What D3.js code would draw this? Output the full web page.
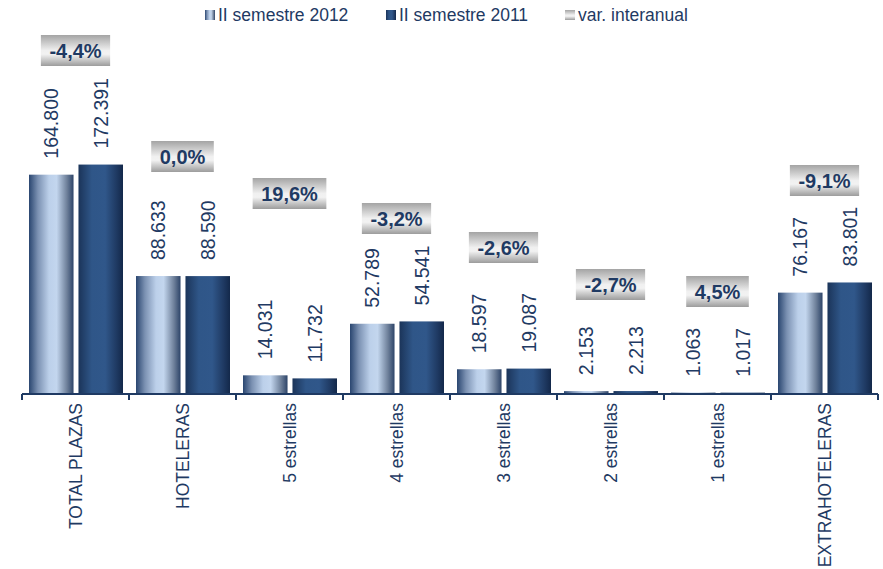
<!DOCTYPE html>
<html>
<head>
<meta charset="utf-8">
<script src="https://cdn.jsdelivr.net/npm/d3@7"></script>
<style>
  body { margin: 0; background: #fff; }
  svg { font-family: Arial, "Liberation Sans", sans-serif; }
</style>
</head>
<body>
<div id="chart"></div>
<script>
// data
var categories = ["TOTAL PLAZAS", "HOTELERAS", "5 estrellas", "4 estrellas", "3 estrellas", "2 estrellas", "1 estrellas", "EXTRAHOTELERAS"];
var series = ["II semestre 2012", "II semestre 2011"];
var plazas2012 = [164800, 88633, 14031, 52789, 18597, 2153, 1063, 76167];
var plazas2011 = [172391, 88590, 11732, 54541, 19087, 2213, 1017, 83801];
var varInteranual = [-4.4, 0.0, 19.6, -3.2, -2.6, -2.7, 4.5, -9.1];
var legendLabels = ["II semestre 2012", "II semestre 2011", "var. interanual"];

// where the variation boxes were placed by hand (top edge, px)
var boxTop = [35, 141, 178, 203, 232, 269, 276, 165];

var w = 883, h = 569;
var axisY = 394, left = 22, right = 878;
var navy = "#1f3a63";

var fmtNum = function(v) { return d3.format(",")(v).replace(/,/g, "."); };
var fmtPct = function(v) { return d3.format(".1f")(v).replace(".", ",").replace("\u2212", "-") + "%"; };

var svg = d3.select("#chart").append("svg")
    .attr("width", w)
    .attr("height", h);

// gradients
var defs = svg.append("defs");
function hGrad(id, stops, vertical) {
    var g = defs.append("linearGradient").attr("id", id)
        .attr("x1", "0%").attr("y1", "0%")
        .attr("x2", vertical ? "0%" : "100%").attr("y2", vertical ? "100%" : "0%");
    stops.forEach(function(s) {
        g.append("stop").attr("offset", s[0]).attr("stop-color", s[1]);
    });
}
hGrad("g2012", [["0%", "#2a4670"], ["20%", "#7b91b2"], ["45%", "#bcd0ea"], ["62%", "#c3d6ee"], ["85%", "#6f819b"], ["100%", "#2d4468"]]);
hGrad("g2011", [["0%", "#1b3459"], ["30%", "#2f5688"], ["60%", "#30578a"], ["85%", "#1f3a63"], ["100%", "#13284a"]]);
hGrad("gbox", [["0%", "#a4a4a4"], ["50%", "#f0f0f0"], ["62%", "#f2f2f2"], ["100%", "#9c9c9c"]], true);

var x0 = d3.scaleBand().domain(categories).range([left, right]).paddingInner(0);
var x1 = d3.scaleBand().domain(series).range([7, 101]).paddingInner(0.1);
var y = d3.scaleLinear().domain([0, 275000]).range([axisY, 28]);

var rows = categories.map(function(c, i) {
    return { cat: c, vals: [plazas2012[i], plazas2011[i]], pct: varInteranual[i], top: boxTop[i] };
});

var groups = svg.selectAll(".cat")
    .data(rows)
    .enter()
    .append("g")
    .attr("class", "cat")
    .attr("transform", function(d) { return "translate(" + x0(d.cat) + ",0)"; });

// bars
groups.selectAll("rect")
    .data(function(d) { return d.vals.map(function(v, k) { return { s: series[k], v: v }; }); })
    .enter()
    .append("rect")
    .attr("x", function(d) { return x1(d.s); })
    .attr("y", function(d) { return y(d.v); })
    .attr("width", x1.bandwidth())
    .attr("height", function(d) { return axisY - y(d.v); })
    .attr("fill", function(d, k) { return k === 0 ? "url(#g2012)" : "url(#g2011)"; });

// value labels (rotated)
groups.selectAll(".val")
    .data(function(d) { return d.vals.map(function(v, k) { return { s: series[k], v: v }; }); })
    .enter()
    .append("text")
    .attr("class", "val")
    .attr("transform", function(d) {
        return "translate(" + (x1(d.s) + x1.bandwidth() / 2) + "," + (y(d.v) - 16) + ") rotate(-90)";
    })
    .attr("dy", "0.35em")
    .attr("font-size", "19.5px")
    .attr("fill", navy)
    .text(function(d) { return fmtNum(d.v); });

// variation boxes
groups.each(function(d) {
    var g = d3.select(this);
    var cx = x0.bandwidth() / 2;
    var t = g.append("text")
        .attr("x", cx)
        .attr("y", d.top + 15.5)
        .attr("dy", "0.36em")
        .attr("text-anchor", "middle")
        .attr("font-size", "20px")
        .attr("font-weight", "bold")
        .attr("fill", navy)
        .text(fmtPct(d.pct));
    var tw = t.node().getComputedTextLength() + 17;
    g.insert("rect", function() { return t.node(); })
        .attr("x", cx - tw / 2)
        .attr("y", d.top)
        .attr("width", tw)
        .attr("height", 31)
        .attr("fill", "url(#gbox)");
});

// category labels
groups.append("text")
    .attr("transform", "translate(" + (x0.bandwidth() / 2) + "," + (axisY + 9) + ") rotate(-90)")
    .attr("dy", "0.35em")
    .attr("text-anchor", "end")
    .attr("font-size", "17.5px")
    .attr("fill", navy)
    .text(function(d) { return d.cat; });

// axis line + ticks at band edges
var axis = svg.append("g").attr("class", "x axis");
axis.append("line")
    .attr("x1", left).attr("x2", right)
    .attr("y1", axisY).attr("y2", axisY)
    .attr("stroke", navy).attr("stroke-width", 2);
var edges = categories.map(function(c) { return x0(c); }).concat([right]);
axis.selectAll(".tick")
    .data(edges)
    .enter()
    .append("line")
    .attr("class", "tick")
    .attr("x1", function(d) { return d; }).attr("x2", function(d) { return d; })
    .attr("y1", axisY).attr("y2", axisY + 6)
    .attr("stroke", navy).attr("stroke-width", 2);

// legend
var legendX = [205, 386, 565];
var legendFill = ["url(#g2012)", "url(#g2011)", "url(#gbox)"];
var legend = svg.selectAll(".legend")
    .data(legendLabels)
    .enter()
    .append("g")
    .attr("class", "legend")
    .attr("transform", function(d, i) { return "translate(" + legendX[i] + ",10)"; });
legend.append("rect")
    .attr("width", 10).attr("height", 10)
    .attr("fill", function(d, i) { return legendFill[i]; });
legend.append("text")
    .attr("x", 13)
    .attr("y", 5)
    .attr("dy", "0.36em")
    .attr("font-size", "17.5px")
    .attr("fill", navy)
    .text(function(d) { return d; });
</script>
</body>
</html>
